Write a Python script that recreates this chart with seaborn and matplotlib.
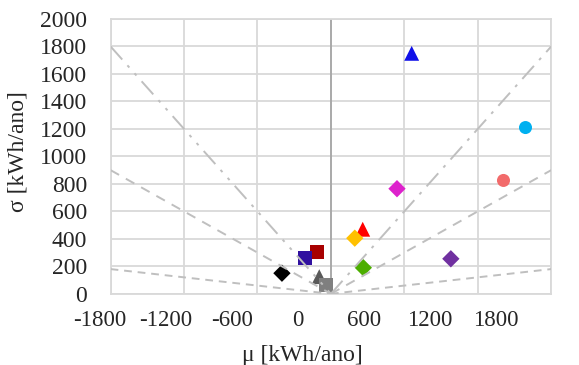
import matplotlib
matplotlib.use("Agg")
import matplotlib.pyplot as plt
import matplotlib.transforms as mtransforms
import seaborn as sns
import numpy as np
import pandas as pd

# dados
nomes = ["A", "B", "C", "D", "E", "F", "G", "H", "I", "J", "K", "L", "M"]
mu = [660, 1590, 1410, 540, 980, 260, 195, 265, -110, -210, -400, -95, -40]
sigma = [1750, 1210, 825, 765, 255, 470, 405, 190, 305, 260, 150, 125, 65]
cores = ["#1010E8", "#00B0F0", "#F26B6B", "#DD22CC", "#7030A0", "#FF0000",
         "#FFC000", "#4CAE00", "#A80000", "#3010A0", "#000000", "#595959", "#7F7F7F"]
marcadores = ["^", "o", "o", "D", "D", "^", "D", "D", "s", "s", "D", "^", "s"]

# retas de referência sigma = k*|mu|
inclinacoes = [1.0, 0.5, 0.1]
estilos_esq = [(0, (9, 4, 1.5, 4, 1.5, 4)), (0, (5, 4)), (0, (4, 3))]
estilos_dir = [(0, (9, 4, 1.5, 4)), (0, (5, 4)), (0, (4, 3))]

xticks = list(range(-1800, 1801, 600))
yticks = list(range(0, 2001, 200))

sns.set_style("white")
plt.rcParams["font.family"] = ["Liberation Serif", "DejaVu Serif"]
plt.rcParams["axes.unicode_minus"] = False

df = pd.DataFrame({"nome": nomes, "mu": mu, "sigma": sigma})

fig = plt.figure(figsize=(5.79, 3.65), dpi=100)
ax = fig.add_axes([0.191, 0.195, 0.761, 0.753])

tamanhos = {"^": 115, "o": 88, "D": 78, "s": 100}
for i, row in df.iterrows():
    m = marcadores[i]
    sns.scatterplot(data=df.iloc[[i]], x="mu", y="sigma", color=cores[i], marker=m,
                    s=tamanhos[m], edgecolor="none", ax=ax, zorder=3, legend=False)

x_esq = np.array([-1800, 0])
x_dir = np.array([0, 1800])
for k, le, ld in zip(inclinacoes, estilos_esq, estilos_dir):
    ax.plot(x_esq, k * np.abs(x_esq), color="#BFBFBF", lw=1.4, linestyle=le, zorder=4)
    ax.plot(x_dir, k * np.abs(x_dir), color="#BFBFBF", lw=1.4, linestyle=ld, zorder=4)

ax.axvline(0, color="#A6A6A6", lw=1.3, zorder=2)

ax.set_xlim(-1800, 1800)
ax.set_ylim(0, 2000)
ax.set_xticks(xticks)
ax.set_yticks(yticks)
ax.grid(True, color="#D9D9D9", lw=1.3)
ax.set_axisbelow(True)
for s in ax.spines.values():
    s.set_color("#D9D9D9")
    s.set_linewidth(1.3)
ax.tick_params(axis="both", length=0)
ax.tick_params(axis="y", pad=17, labelsize=17)
ax.tick_params(axis="x", pad=12, labelsize=16.5)

# rótulos do eixo x ficam um pouco comprimidos para a esquerda, como no original
for i, lab in enumerate(ax.get_xticklabels()):
    dx = (-11.2 - 7.3 * i) / 100
    lab.set_transform(lab.get_transform() + mtransforms.ScaledTranslation(dx, 0, fig.dpi_scale_trans))

ax.set_xlabel("μ [kWh/ano]", fontsize=17)
ax.set_ylabel("σ [kWh/ano]", fontsize=17)
ax.xaxis.set_label_coords(0.436, -0.223)
ax.xaxis.label.set_va("center")
ax.yaxis.set_label_coords(-0.21, 0.516)
ax.yaxis.label.set_va("center")

fig.savefig("out.png", dpi=100)
